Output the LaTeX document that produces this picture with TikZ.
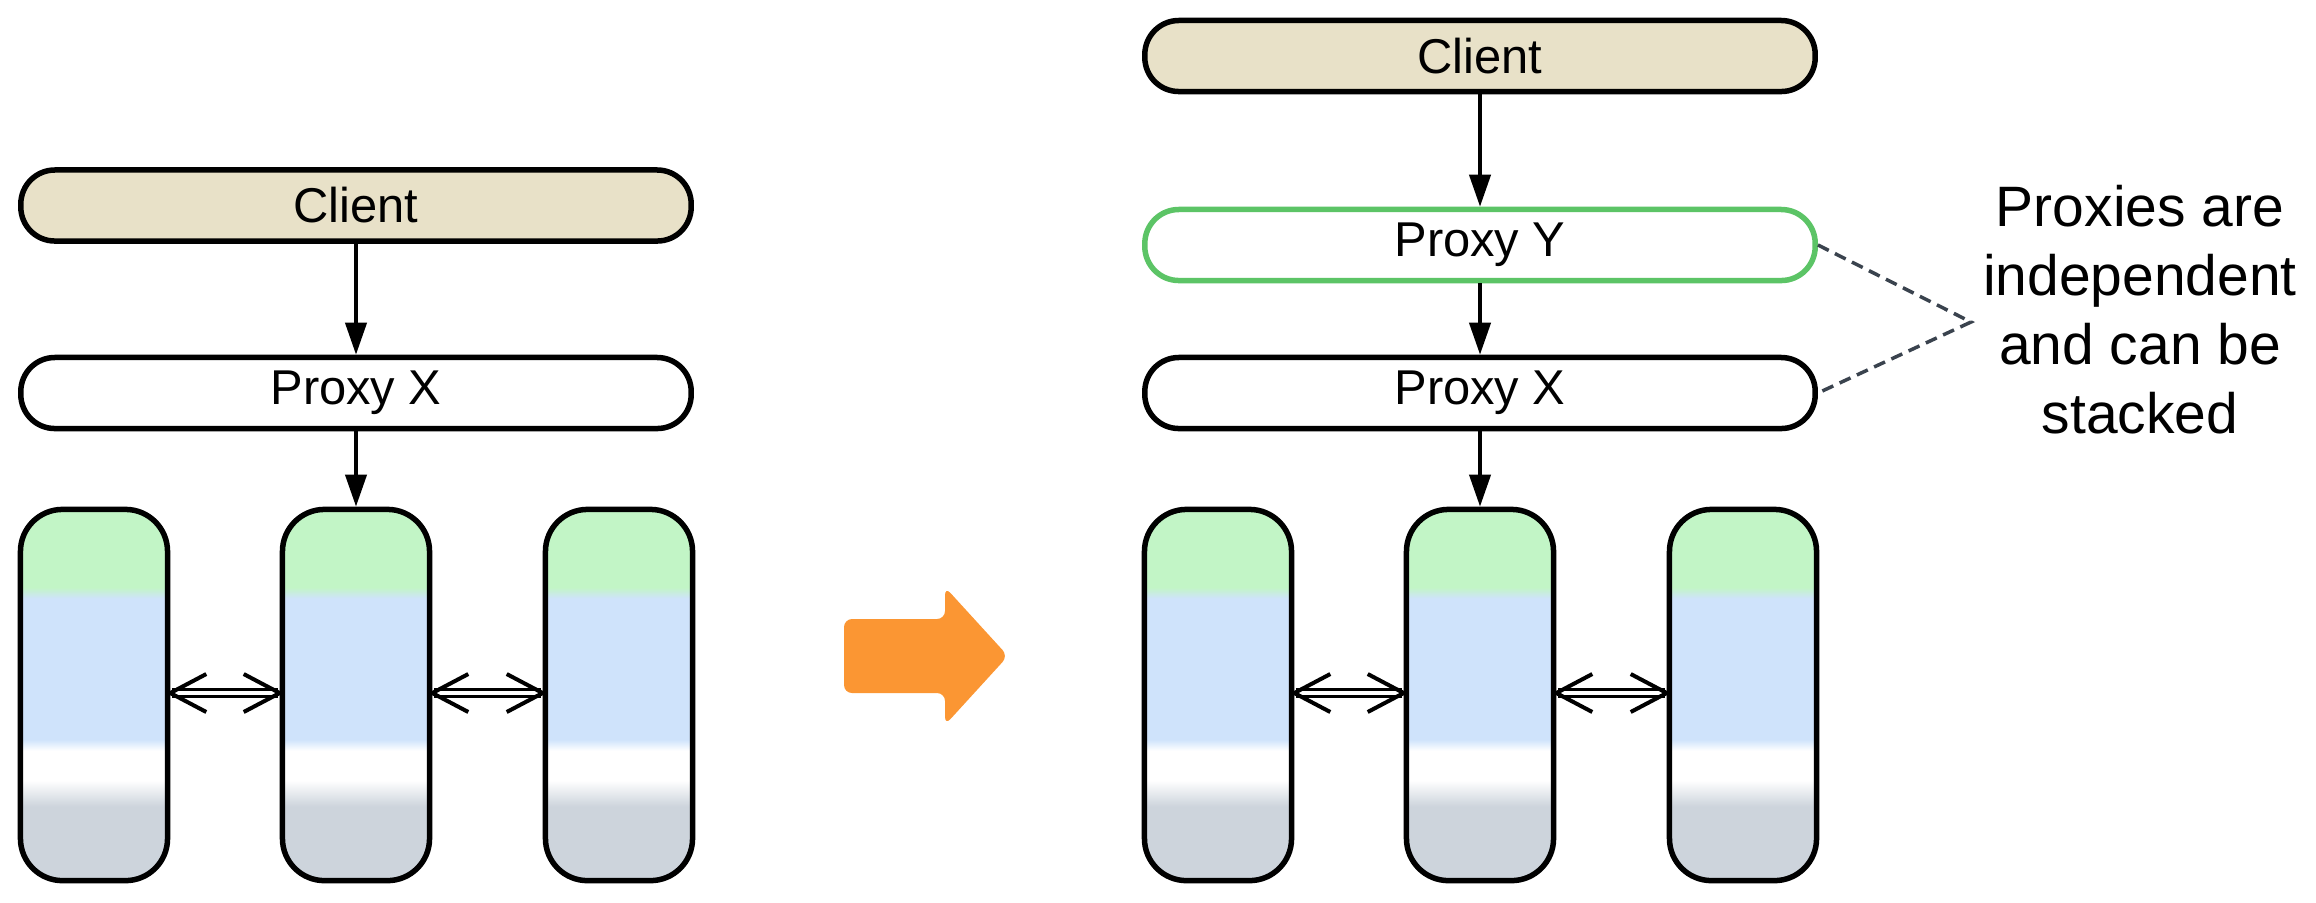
\documentclass[tikz,border=0pt]{standalone}
\usepackage{fontspec}
\setmainfont{Liberation Sans}
\usetikzlibrary{arrows.meta,calc}
\definecolor{clientfill}{HTML}{E8E1C8}
\definecolor{srvgreen}{HTML}{C2F5C6}
\definecolor{srvblue}{HTML}{CFE3FB}
\definecolor{srvgray}{HTML}{CDD4DC}
\definecolor{proxygreen}{HTML}{5CC466}
\definecolor{orangearrow}{HTML}{FB9633}
\definecolor{dashcol}{HTML}{3A434E}
\pgfdeclareverticalshading{srvshade}{100bp}{color(0bp)=(srvgray); color(35bp)=(srvgray); color(38.5bp)=(white); color(42.5bp)=(white); color(44bp)=(srvblue); color(63bp)=(srvblue); color(64.5bp)=(srvgreen); color(100bp)=(srvgreen)}
\tikzset{
  box/.style={draw, line width=0.055cm, rounded corners=0.34cm, minimum width=6.70cm, minimum height=0.71cm, inner sep=0pt, font=\fontsize{13.9}{16}\selectfont},
  clientbox/.style={box, fill=clientfill},
  proxybox/.style={box, fill=white},
  greenproxy/.style={box, fill=white, draw=proxygreen},
  server/.style={draw, line width=0.055cm, rounded corners=0.42cm, minimum width=1.47cm, minimum height=3.71cm, inner sep=0pt, shade, shading=srvshade},
  conn/.style={line width=0.04cm, -{Triangle[length=0.32cm, width=0.21cm]}},
  dblline/.style={double, double distance=0.045cm, line width=0.026cm, shorten <=0.02cm, shorten >=0.02cm},
  chev/.style={line width=0.04cm, line join=miter},
  noteline/.style={dashcol, line width=0.035cm, dash pattern=on 0.12cm off 0.07cm},
  notetext/.style={align=center, font=\fontsize{16.2}{19.6}\selectfont, inner sep=0pt}
}
\begin{document}
\begin{tikzpicture}[x=0.01cm, y=-0.01cm]
\useasboundingbox (0,0) rectangle (2316,902);

% ---------- left side ----------
\node[clientbox] (clientL) at (356,205.5) {Client};
\node[proxybox] (proxyL) at (356,393) {Proxy X};
\node[server] (s1L) at (94,695) {};
\node[server] (s2L) at (356,695) {};
\node[server] (s3L) at (619,695) {};
\draw[conn] (clientL.south) -- (proxyL.north);
\draw[conn] (proxyL.south) -- (s2L.north);

\coordinate (aL1) at ($(s1L.east)+(0,-2)$);
\coordinate (bL1) at ($(s2L.west)+(0,-2)$);
\coordinate (aL2) at ($(s2L.east)+(0,-2)$);
\coordinate (bL2) at ($(s3L.west)+(0,-2)$);

% ---------- right side ----------
\node[clientbox] (clientR) at (1480,56) {Client};
\node[greenproxy] (proxyY) at (1480,245) {Proxy Y};
\node[proxybox] (proxyXR) at (1480,393) {Proxy X};
\node[server] (s1R) at (1218,695) {};
\node[server] (s2R) at (1480,695) {};
\node[server] (s3R) at (1743,695) {};
\draw[conn] (clientR.south) -- (proxyY.north);
\draw[conn] (proxyY.south) -- (proxyXR.north);
\draw[conn] (proxyXR.south) -- (s2R.north);

\coordinate (aR1) at ($(s1R.east)+(0,-2)$);
\coordinate (bR1) at ($(s2R.west)+(0,-2)$);
\coordinate (aR2) at ($(s2R.east)+(0,-2)$);
\coordinate (bR2) at ($(s3R.west)+(0,-2)$);

% double-headed double arrows
\foreach \a/\b in {aL1/bL1, aL2/bL2, aR1/bR1, aR2/bR2}{
  \draw[dblline] (\a) -- (\b);
  \draw[chev] ($(\a)+(36,-19)$) -- (\a) -- ($(\a)+(36,19)$);
  \draw[chev] ($(\b)+(-36,-19)$) -- (\b) -- ($(\b)+(-36,19)$);
}

% annotation
\node[notetext] (note) at (2140,310) {Proxies are\\independent\\and can be\\stacked};
\coordinate (meet) at (1971,322);
\draw[noteline] (proxyY.east) -- (meet) -- (proxyXR.east);

% orange transition arrow
\fill[orangearrow, rounded corners=0.08cm]
  (844,619) -- (945,619) -- (945,587) -- (1008,656) -- (945,725) -- (945,693) -- (844,693) -- cycle;
\end{tikzpicture}
\end{document}
